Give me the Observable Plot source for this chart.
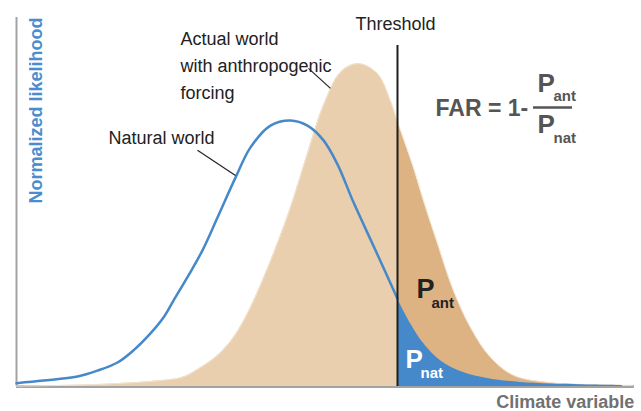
<!DOCTYPE html>
<html><head><meta charset="utf-8">
<script src="https://cdn.jsdelivr.net/npm/d3@7"></script>
<script src="https://cdn.jsdelivr.net/npm/@observablehq/plot@0.6"></script>
<style>body{margin:0;background:#fff;} svg{overflow:visible}</style>
</head><body><div id="chart"></div>
<script>
const threshold = 6.185;
const naturalX = [0, 0.438, 0.990, 1.315, 1.640, 1.899, 2.175, 2.386, 2.549, 2.792, 3.019, 3.263, 3.555, 3.799, 4.123, 4.448, 4.724, 4.984, 5.211, 5.471, 5.828, 6.185, 6.396, 6.607, 6.883, 7.256, 7.646, 8.182, 9.156, 9.838];
const naturalY = [0.009, 0.016, 0.027, 0.043, 0.065, 0.098, 0.144, 0.187, 0.233, 0.301, 0.369, 0.458, 0.566, 0.648, 0.707, 0.721, 0.707, 0.667, 0.602, 0.499, 0.369, 0.238, 0.171, 0.117, 0.070, 0.038, 0.022, 0.011, 0.005, 0.003];
const actualX = [0, 0.714, 1.526, 2.338, 2.711, 2.987, 3.263, 3.523, 3.750, 3.994, 4.237, 4.448, 4.724, 4.984, 5.260, 5.552, 5.860, 6.071, 6.185, 6.445, 6.607, 6.834, 7.094, 7.370, 7.695, 8.068, 8.620, 9.269, 10.0];
const actualY = [0.001, 0.003, 0.007, 0.016, 0.026, 0.051, 0.084, 0.133, 0.198, 0.287, 0.388, 0.485, 0.631, 0.762, 0.851, 0.875, 0.848, 0.775, 0.718, 0.593, 0.504, 0.388, 0.260, 0.160, 0.079, 0.030, 0.011, 0.005, 0.003];

const natural = naturalX.map((x, i) => ({x, y: naturalY[i]}));
const actual = actualX.map((x, i) => ({x, y: actualY[i]}));
const font = "'Liberation Sans', Arial, sans-serif";
const curve = "catmull-rom";
const lbl = (t, o) => Plot.text([t], {text: d => d, fontFamily: font, ...o});

const chart = Plot.plot({
  width: 641, height: 411,
  marginLeft: 16, marginRight: 9, marginTop: 17, marginBottom: 25,
  x: {domain: [0, 10], axis: null},
  y: {domain: [0, 1], axis: null},
  style: {fontFamily: font, background: "#fff", overflow: "visible"},
  marks: [
    Plot.ruleX([0], {y1: 0, y2: 1, stroke: "#a3a3a3", strokeWidth: 2}),
    Plot.ruleY([0], {x1: 0, x2: 10.03, stroke: "#a3a3a3", strokeWidth: 3}),
    Plot.areaY(actual.filter(d => d.x <= threshold), {x: "x", y: "y", fill: "#e9cfae", curve}),
    Plot.areaY(actual.filter(d => d.x >= threshold), {x: "x", y: "y", fill: "#ddb383", curve}),
    Plot.line(actual, {x: "x", y: "y", stroke: "#f2e4d0", strokeWidth: 1, curve}),
    Plot.areaY(natural.filter(d => d.x >= threshold), {x: "x", y: "y", fill: "#4589cb", curve}),
    Plot.line(natural.filter(d => d.x <= threshold), {x: "x", y: "y", stroke: "#4589cb", strokeWidth: 2.5, curve}),
    Plot.ruleX([threshold], {y1: 0, y2: 0.924, stroke: "#1e1e1e", strokeWidth: 2}),
    Plot.link([0], {x1: 4.740, y1: 0.862, x2: 5.097, y2: 0.808, stroke: "#222", strokeWidth: 1.2}),
    Plot.link([0], {x1: 2.938, y1: 0.640, x2: 3.555, y2: 0.572, stroke: "#222", strokeWidth: 1.2}),
    lbl("Actual world\nwith anthropogenic\nforcing", {x: 2.662, y: 0.978, lineAnchor: "top", lineHeight: 1.5, textAnchor: "start", fontSize: 18, fill: "#222"}),
    lbl("Natural world", {x: 1.494, y: 0.6585, lineAnchor: "bottom", textAnchor: "start", fontSize: 18, fill: "#222"}),
    lbl("Threshold", {x: threshold, dx: -2, y: 0.965, lineAnchor: "bottom", textAnchor: "middle", fontSize: 18, fill: "#222"}),
    lbl("Normalized likelihood", {x: 0.406, y: 0.496, rotate: -90, lineAnchor: "bottom", textAnchor: "start", fontSize: 18, fontWeight: "bold", fill: "#4a8dce"}),
    lbl("Climate variable", {x: 10.03, y: -0.057, lineAnchor: "bottom", textAnchor: "end", fontSize: 18, fontWeight: "bold", fill: "#717171"}),
    lbl("FAR = 1-", {x: 6.802, y: 0.734, lineAnchor: "bottom", textAnchor: "start", fontSize: 23, fontWeight: "bold", fill: "#555"}),
    lbl("P", {x: 8.458, y: 0.797, lineAnchor: "bottom", textAnchor: "start", fontSize: 26, fontWeight: "bold", fill: "#555"}),
    lbl("ant", {x: 8.718, y: 0.775, lineAnchor: "bottom", textAnchor: "start", fontSize: 15, fontWeight: "bold", fill: "#555"}),
    Plot.ruleY([0.756], {x1: 8.393, x2: 9.026, stroke: "#555", strokeWidth: 2.5}),
    lbl("P", {x: 8.458, y: 0.686, lineAnchor: "bottom", textAnchor: "start", fontSize: 26, fontWeight: "bold", fill: "#555"}),
    lbl("nat", {x: 8.718, y: 0.661, lineAnchor: "bottom", textAnchor: "start", fontSize: 15, fontWeight: "bold", fill: "#555"}),
    lbl("P", {x: 6.494, y: 0.2385, lineAnchor: "bottom", textAnchor: "start", fontSize: 27, fontWeight: "bold", fill: "#222"}),
    lbl("ant", {x: 6.721, dx: 1, y: 0.214, lineAnchor: "bottom", textAnchor: "start", fontSize: 15, fontWeight: "bold", fill: "#222"}),
    lbl("P", {x: 6.315, y: 0.0488, lineAnchor: "bottom", textAnchor: "start", fontSize: 26, fontWeight: "bold", fill: "#fff"}),
    lbl("nat", {x: 6.558, y: 0.0217, lineAnchor: "bottom", textAnchor: "start", fontSize: 15, fontWeight: "bold", fill: "#fff"})
  ]
});
document.getElementById("chart").append(chart);
</script>
</body></html>
